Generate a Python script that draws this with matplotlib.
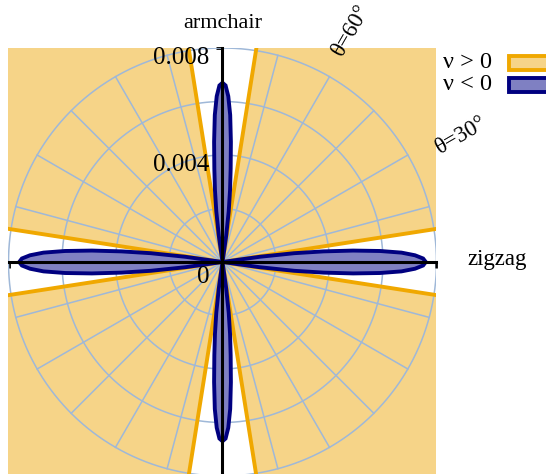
import numpy as np
import matplotlib
matplotlib.use('Agg')
import matplotlib.pyplot as plt
from matplotlib.patches import Rectangle

plt.rcParams['font.family'] = ['Liberation Serif', 'DejaVu Serif']

# grid
ring_radii = [0.002, 0.004, 0.006, 0.008]
spoke_angles = [0, 15, 30, 45, 60, 75, 90, 105, 120, 135, 150, 165,
                180, 195, 210, 225, 240, 255, 270, 285, 300, 315, 330, 345]

# angles (deg, first quadrant) where nu changes sign; nu > 0 in between
sign_change = [8.8, 81.0]

# nu < 0 lobes: deviation from axis (deg) vs |nu|
zz_phi = [0, 1, 2, 3, 4, 5, 6, 7, 8, 8.8]
zz_r = [0.0076, 0.0075, 0.0072, 0.0067, 0.0059, 0.0049, 0.0038, 0.0027, 0.0014, 0.0]
ac_phi = [0, 1, 2, 3, 4, 5, 6, 7, 8, 9]
ac_r = [0.0067, 0.0066, 0.0062, 0.0055, 0.0045, 0.0035, 0.0027, 0.0019, 0.0010, 0.0]

y_tick_labels = {0.008: '0.008', 0.004: '0.004', 0.0: '0'}

orange_fill = '#f6d488'
orange_line = '#f0a800'
blue_fill = '#7f80c2'
blue_line = '#000080'
grid_col = '#9fb8d8'

fig = plt.figure(figsize=(5.46, 4.74), dpi=100)
ax = fig.add_axes([8 / 546, -2 / 474, 429 / 546, 428 / 474])
ax.set_xlim(-0.008, 0.008)
ax.set_ylim(-0.008, 0.008)
ax.set_aspect('equal')

# nu > 0 wedges, one per quadrant
a1, a2 = sign_change
big = 0.03
for q in range(4):
    if q % 2 == 0:
        lo, hi = 90 * q + a1, 90 * q + a2
    else:
        lo, hi = 90 * q + (90 - a2), 90 * q + (90 - a1)
    t = np.radians(np.linspace(lo, hi, 60))
    xs = np.concatenate([[0], big * np.cos(t)])
    ys = np.concatenate([[0], big * np.sin(t)])
    ax.fill(xs, ys, color=orange_fill, lw=0, zorder=1)
    for a in (lo, hi):
        ax.plot([0, big * np.cos(np.radians(a))], [0, big * np.sin(np.radians(a))],
                color=orange_line, lw=2.8, zorder=3, solid_capstyle='butt')

# polar grid
tt = np.linspace(0, 2 * np.pi, 400)
for r in ring_radii:
    ax.plot(r * np.cos(tt), r * np.sin(tt), color=grid_col, lw=1.1, zorder=2)
for a in spoke_angles:
    ax.plot([0, 0.008 * np.cos(np.radians(a))], [0, 0.008 * np.sin(np.radians(a))],
            color=grid_col, lw=1.1, zorder=2)


# nu < 0 lobes
def lobe(phi, r, centre):
    phi = np.array(phi)
    r = np.array(r)
    full_phi = np.concatenate([-phi[::-1], phi[1:]])
    full_r = np.concatenate([r[::-1], r[1:]])
    ang = np.radians(centre + full_phi)
    return full_r * np.cos(ang), full_r * np.sin(ang)


for centre, phi, r in [(0, zz_phi, zz_r), (180, zz_phi, zz_r),
                       (90, ac_phi, ac_r), (270, ac_phi, ac_r)]:
    lx, ly = lobe(phi, r, centre)
    ax.fill(lx, ly, facecolor=blue_fill, edgecolor=blue_line, lw=2.8, zorder=4)

# axes through the origin
for s in ['top', 'right']:
    ax.spines[s].set_visible(False)
for s in ['left', 'bottom']:
    ax.spines[s].set_position('zero')
    ax.spines[s].set_linewidth(2.2)
    ax.spines[s].set_zorder(5)
ticks = np.arange(-0.008, 0.0081, 0.002)
ax.set_xticks(ticks)
ax.set_yticks(ticks)
ax.tick_params(length=4, width=2, labelbottom=False, labelleft=False)

for v, lab in y_tick_labels.items():
    dy = 0.00004 if v > 0 else -0.00014
    ax.text(-0.0005, v + dy, lab, ha='right', va='top', fontsize=18, zorder=6)

ax.text(0, 0.0089, 'armchair', ha='center', va='center', fontsize=16, clip_on=False)
ax.text(0.00915, 0.0001, 'zigzag', ha='left', va='center', fontsize=16.5, clip_on=False)
for a, rr, pa in [(60, 0.0099, 61), (30, 0.0101, 28)]:
    ax.text(rr * np.cos(np.radians(pa)), rr * np.sin(np.radians(pa)),
            'θ=%d°' % a, ha='center', va='center', rotation=a, fontsize=16.5, clip_on=False)

# legend
fig.text(443 / 546, 1 - 62 / 474, 'ν > 0', ha='left', va='center', fontsize=17.5)
fig.text(443 / 546, 1 - 84 / 474, 'ν < 0', ha='left', va='center', fontsize=17.5)
fig.patches.append(Rectangle((509 / 546, 1 - 70 / 474), 40 / 546, 14 / 474,
                             facecolor=orange_fill, edgecolor=orange_line, lw=2.8,
                             transform=fig.transFigure, figure=fig))
fig.patches.append(Rectangle((509 / 546, 1 - 92 / 474), 40 / 546, 14 / 474,
                             facecolor=blue_fill, edgecolor=blue_line, lw=2.8,
                             transform=fig.transFigure, figure=fig))

fig.savefig('out.png', dpi=100)
